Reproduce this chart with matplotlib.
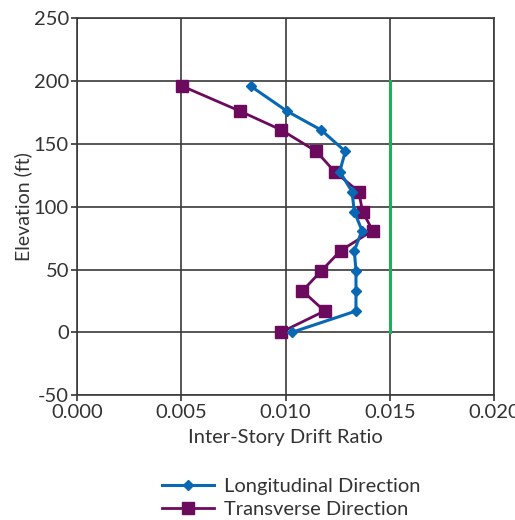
import matplotlib.pyplot as plt

plt.rcParams['font.family'] = ['Lato', 'DejaVu Sans']
plt.rcParams['axes.unicode_minus'] = False

elevation = [0, 17, 33, 49, 65, 81, 96, 112, 128, 144, 161, 176, 196]
longitudinal = [0.0103, 0.01338, 0.01338, 0.01338, 0.0133, 0.01367, 0.0133,
                0.01319, 0.0126, 0.01287, 0.01171, 0.01007, 0.00832]
transverse = [0.00977, 0.01187, 0.01081, 0.01172, 0.01264, 0.01418, 0.0137,
              0.01351, 0.01235, 0.01148, 0.0098, 0.00782, 0.00503]
limit_x = [0.015, 0.015]
limit_y = [0, 200]

txt = '#333333'
fig = plt.figure(figsize=(5.15, 5.20), dpi=100)
ax = fig.add_axes([0.150, 0.240, 0.809, 0.725])

ax.plot(longitudinal, elevation, color='#0868b4', lw=2.2, marker='D', ms=5,
        label='Longitudinal Direction', zorder=4)
ax.plot(transverse, elevation, color='#6c0a5e', lw=2.0, marker='s', ms=8,
        label='Transverse Direction', zorder=3)
ax.plot(limit_x, limit_y, color='#1db157', lw=2.2, zorder=2)

ax.set_xlim(0, 0.02)
ax.set_ylim(-50, 250)
ax.set_xticks([0, 0.005, 0.01, 0.015, 0.02])
ax.set_xticklabels(['0.000', '0.005', '0.010', '0.015', '0.020'])
ax.set_yticks(range(-50, 251, 50))
ax.grid(True, color='#3a3a3a', lw=1.2)
ax.set_axisbelow(True)
for s in ax.spines.values():
    s.set_color('#3a3a3a')
    s.set_linewidth(1.2)
ax.tick_params(colors=txt, labelsize=14.5, length=4, width=1.2, pad=2)
ax.set_xlabel('Inter-Story Drift Ratio', fontsize=14.5, color=txt, labelpad=6)
ax.set_ylabel('Elevation (ft)', fontsize=14, color=txt, labelpad=1)

fig.legend(loc='upper center', bbox_to_anchor=(0.565, 0.10), frameon=False,
           fontsize=14.5, labelcolor=txt, handlelength=2.6, handletextpad=0.5,
           labelspacing=0.3, borderpad=0)

fig.savefig('out.png', dpi=100)
